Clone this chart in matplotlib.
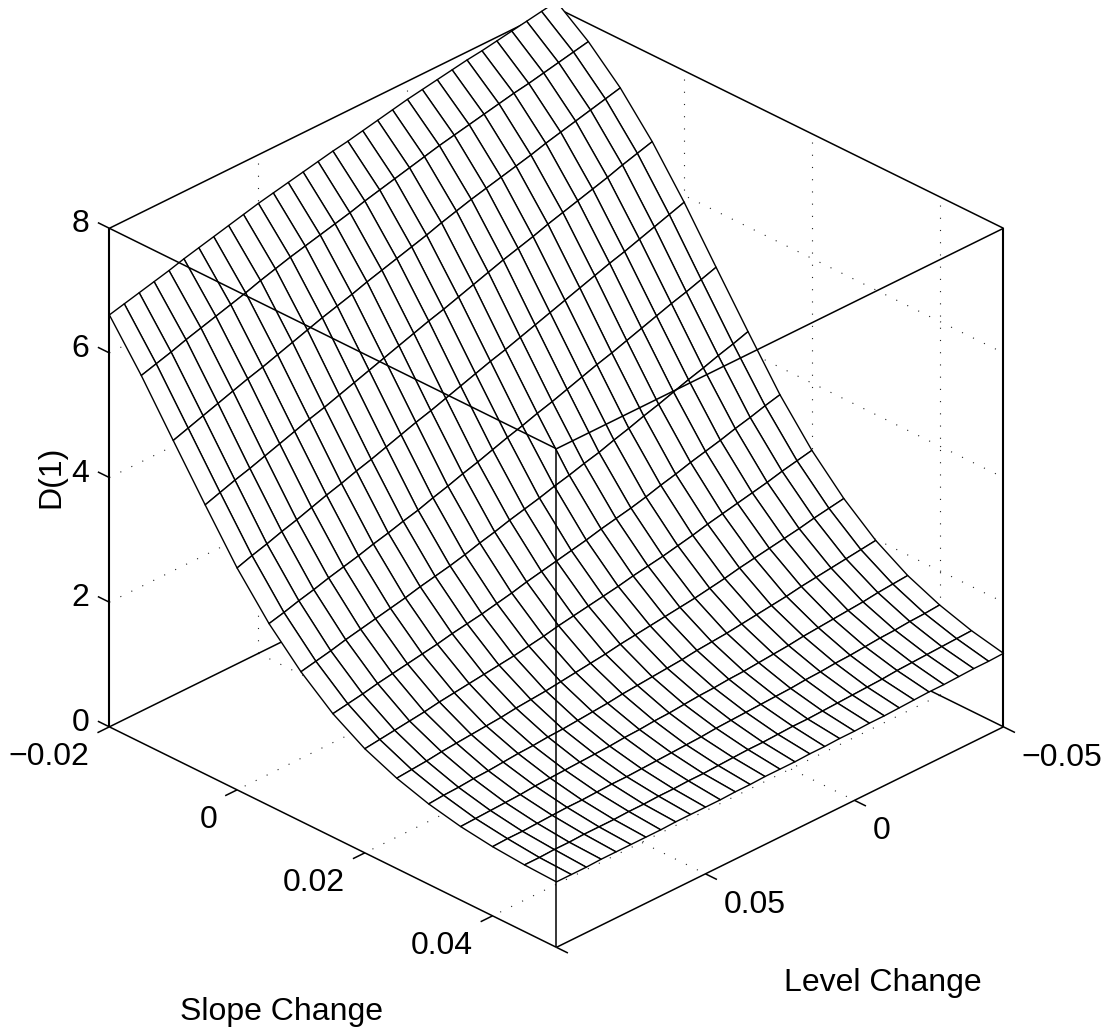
import matplotlib
matplotlib.use("Agg")
import matplotlib.pyplot as plt
import numpy as np
from matplotlib.patches import Rectangle
from mpl_toolkits.mplot3d import proj3d

plt.rcParams["font.family"] = ["Liberation Sans", "DejaVu Sans"]

# level -0.05 .. 0.10 and slope -0.02 .. 0.05, both in 0.005 steps
level_change = [-0.05 + 0.005 * i for i in range(31)]
slope_change = [-0.02 + 0.005 * j for j in range(15)]

# D(1), one row per level, one column per slope
d1_rows = [
    [8.10, 7.71, 7.22, 6.61, 5.89, 5.10, 4.32, 3.56, 2.92, 2.40, 1.98, 1.67, 1.45, 1.29, 1.18],
    [8.06, 7.66, 7.16, 6.54, 5.81, 5.02, 4.24, 3.50, 2.87, 2.36, 1.95, 1.65, 1.43, 1.28, 1.17],
    [8.02, 7.61, 7.10, 6.47, 5.73, 4.94, 4.17, 3.43, 2.82, 2.32, 1.92, 1.63, 1.42, 1.27, 1.17],
    [7.98, 7.56, 7.04, 6.39, 5.65, 4.87, 4.09, 3.37, 2.76, 2.27, 1.89, 1.60, 1.40, 1.26, 1.16],
    [7.94, 7.51, 6.98, 6.32, 5.57, 4.79, 4.02, 3.30, 2.71, 2.23, 1.86, 1.58, 1.39, 1.25, 1.15],
    [7.90, 7.47, 6.92, 6.25, 5.50, 4.71, 3.94, 3.24, 2.66, 2.19, 1.83, 1.56, 1.37, 1.24, 1.15],
    [7.87, 7.42, 6.85, 6.18, 5.42, 4.63, 3.86, 3.18, 2.61, 2.15, 1.79, 1.54, 1.35, 1.22, 1.14],
    [7.83, 7.37, 6.79, 6.11, 5.34, 4.55, 3.79, 3.11, 2.56, 2.11, 1.76, 1.52, 1.34, 1.21, 1.13],
    [7.79, 7.32, 6.73, 6.03, 5.26, 4.48, 3.71, 3.05, 2.50, 2.06, 1.73, 1.49, 1.32, 1.20, 1.12],
    [7.75, 7.27, 6.67, 5.96, 5.18, 4.40, 3.64, 2.98, 2.45, 2.02, 1.70, 1.47, 1.31, 1.19, 1.12],
    [7.71, 7.22, 6.61, 5.89, 5.10, 4.32, 3.56, 2.92, 2.40, 1.98, 1.67, 1.45, 1.29, 1.18, 1.11],
    [7.66, 7.16, 6.54, 5.81, 5.02, 4.24, 3.50, 2.87, 2.36, 1.95, 1.65, 1.43, 1.28, 1.17, 1.11],
    [7.61, 7.10, 6.47, 5.73, 4.94, 4.17, 3.43, 2.82, 2.32, 1.92, 1.63, 1.42, 1.27, 1.17, 1.10],
    [7.56, 7.04, 6.39, 5.65, 4.87, 4.09, 3.37, 2.76, 2.27, 1.89, 1.60, 1.40, 1.26, 1.16, 1.10],
    [7.51, 6.98, 6.32, 5.57, 4.79, 4.02, 3.30, 2.71, 2.23, 1.86, 1.58, 1.39, 1.25, 1.15, 1.09],
    [7.47, 6.92, 6.25, 5.50, 4.71, 3.94, 3.24, 2.66, 2.19, 1.83, 1.56, 1.37, 1.24, 1.15, 1.09],
    [7.42, 6.85, 6.18, 5.42, 4.63, 3.86, 3.18, 2.61, 2.15, 1.79, 1.54, 1.35, 1.22, 1.14, 1.09],
    [7.37, 6.79, 6.11, 5.34, 4.55, 3.79, 3.11, 2.56, 2.11, 1.76, 1.52, 1.34, 1.21, 1.13, 1.08],
    [7.32, 6.73, 6.03, 5.26, 4.48, 3.71, 3.05, 2.50, 2.06, 1.73, 1.49, 1.32, 1.20, 1.12, 1.08],
    [7.27, 6.67, 5.96, 5.18, 4.40, 3.64, 2.98, 2.45, 2.02, 1.70, 1.47, 1.31, 1.19, 1.12, 1.07],
    [7.22, 6.61, 5.89, 5.10, 4.32, 3.56, 2.92, 2.40, 1.98, 1.67, 1.45, 1.29, 1.18, 1.11, 1.07],
    [7.16, 6.54, 5.81, 5.02, 4.24, 3.50, 2.87, 2.36, 1.95, 1.65, 1.43, 1.28, 1.17, 1.11, 1.07],
    [7.10, 6.47, 5.73, 4.94, 4.17, 3.43, 2.82, 2.32, 1.92, 1.63, 1.42, 1.27, 1.17, 1.10, 1.07],
    [7.04, 6.39, 5.65, 4.87, 4.09, 3.37, 2.76, 2.27, 1.89, 1.60, 1.40, 1.26, 1.16, 1.10, 1.06],
    [6.98, 6.32, 5.57, 4.79, 4.02, 3.30, 2.71, 2.23, 1.86, 1.58, 1.39, 1.25, 1.15, 1.09, 1.06],
    [6.92, 6.25, 5.50, 4.71, 3.94, 3.24, 2.66, 2.19, 1.83, 1.56, 1.37, 1.24, 1.15, 1.09, 1.06],
    [6.85, 6.18, 5.42, 4.63, 3.86, 3.18, 2.61, 2.15, 1.79, 1.54, 1.35, 1.22, 1.14, 1.09, 1.06],
    [6.79, 6.11, 5.34, 4.55, 3.79, 3.11, 2.56, 2.11, 1.76, 1.52, 1.34, 1.21, 1.13, 1.08, 1.06],
    [6.73, 6.03, 5.26, 4.48, 3.71, 3.05, 2.50, 2.06, 1.73, 1.49, 1.32, 1.20, 1.12, 1.08, 1.05],
    [6.67, 5.96, 5.18, 4.40, 3.64, 2.98, 2.45, 2.02, 1.70, 1.47, 1.31, 1.19, 1.12, 1.07, 1.05],
    [6.61, 5.89, 5.10, 4.32, 3.56, 2.92, 2.40, 1.98, 1.67, 1.45, 1.29, 1.18, 1.11, 1.07, 1.05],
]

level_ticks = [-0.05, 0.0, 0.05]
level_labels = ["\u22120.05", "0", "0.05"]
slope_ticks = [-0.02, 0.0, 0.02, 0.04]
slope_labels = ["\u22120.02", "0", "0.02", "0.04"]
d1_ticks = [0, 2, 4, 6, 8]
d1_labels = ["0", "2", "4", "6", "8"]

L0, L1 = -0.05, 0.10
S0, S1 = -0.02, 0.05
Z0, Z1 = 0, 8

FIG_W, FIG_H = 1114, 1031
TICK_S = 0.0018
TICK_L = 0.0040
FONT = 23
DOTS = (0, (1, 10))

fig = plt.figure(figsize=(FIG_W / 100, FIG_H / 100), dpi=100)
ax = fig.add_axes([-14.5 / FIG_W, 24 / FIG_H, 1.0, 1.0], projection="3d", proj_type="ortho")
ax.computed_zorder = False
ax.view_init(elev=29.55, azim=45)
ax.set_box_aspect((631, 631, 572), zoom=1.0)
ax.set_axis_off()

X, Y = np.meshgrid(level_change, slope_change, indexing="ij")
Z = np.array(d1_rows)


def line3(xs, ys, zs, zorder=3, lw=1.1):
    ax.plot(xs, ys, zs, color="black", lw=lw, zorder=zorder, solid_capstyle="butt")


def dotted(xs, ys, zs):
    ax.plot(xs, ys, zs, color="#222222", lw=0.8, ls=DOTS, zorder=1)


# grid on the two back walls and the floor
for z in d1_ticks[1:-1]:
    dotted([L1, L0], [S0, S0], [z, z])
    dotted([L0, L0], [S0, S1], [z, z])
for lv in level_ticks[1:]:
    dotted([lv, lv], [S0, S0], [Z0, Z1])
    dotted([lv, lv], [S0, S1], [Z0, Z0])
for sl in slope_ticks[1:]:
    dotted([L0, L0], [sl, sl], [Z0, Z1])
    dotted([L0, L1], [sl, sl], [Z0, Z0])

# box edges behind the surface
line3([L1, L0], [S0, S0], [Z0, Z0], zorder=1)
line3([L0, L0], [S0, S1], [Z0, Z0], zorder=1)
line3([L1, L0], [S0, S0], [Z1, Z1], zorder=1)
line3([L0, L0], [S0, S1], [Z1, Z1], zorder=1)

ax.plot_surface(
    X, Y, Z, rstride=1, cstride=1, color="white", edgecolor="black",
    linewidth=1.0, shade=False, zorder=2,
)

# box edges in front, these show over the surface
line3([L1, L1], [S0, S1], [Z1, Z1])
line3([L0, L1], [S1, S1], [Z1, Z1])
line3([L1, L1], [S1, S1], [Z0, Z1])
line3([L1, L1], [S0, S1], [Z0, Z0])
line3([L0, L1], [S1, S1], [Z0, Z0])
line3([L1, L1], [S0, S0], [Z0, Z1], lw=1.5)
line3([L0, L0], [S1, S1], [Z0, Z1], lw=1.5)

# tick marks
for sl in slope_ticks:
    line3([L1, L1 + TICK_L], [sl, sl], [Z0, Z0])
for lv in [L1] + level_ticks:
    line3([lv, lv], [S1, S1 + TICK_S], [Z0, Z0])
for z in d1_ticks:
    line3([L1, L1], [S0, S0 - TICK_S], [z, z])

ax.set_xlim(L0, L1, view_margin=0)
ax.set_ylim(S0, S1, view_margin=0)
ax.set_zlim(Z0, Z1, view_margin=0)


def tick_text(x, y, z, text, dx, dy, ha):
    x2, y2, _ = proj3d.proj_transform(x, y, z, ax.get_proj())
    ax.annotate(
        text, xy=(x2, y2), xytext=(dx, dy), textcoords="offset pixels",
        ha=ha, va="center", fontsize=FONT, annotation_clip=False,
    )


for sl, label in zip(slope_ticks, slope_labels):
    tick_text(L1, sl, Z0, label, -20, -30, "right")
for lv, label in zip(level_ticks, level_labels):
    tick_text(lv, S1, Z0, label, 18, -31, "left")
for z, label in zip(d1_ticks, d1_labels):
    tick_text(L1, S0, z, label, -20, 4, "right")

fig.text(282 / FIG_W, 1 - 1012 / FIG_H, "Slope Change", ha="center", va="center", fontsize=FONT)
fig.text(883 / FIG_W, 1 - 983 / FIG_H, "Level Change", ha="center", va="center", fontsize=FONT)
fig.text(51 / FIG_W, 1 - 477 / FIG_H, "D(1)", rotation=90, ha="center", va="center", fontsize=FONT)

# the original page is cut just above the top corner of the box
fig.add_artist(Rectangle((0, 1 - 8 / FIG_H), 1, 8 / FIG_H, transform=fig.transFigure,
                         facecolor="white", edgecolor="none", zorder=10))

fig.savefig("out.png", dpi=100)
